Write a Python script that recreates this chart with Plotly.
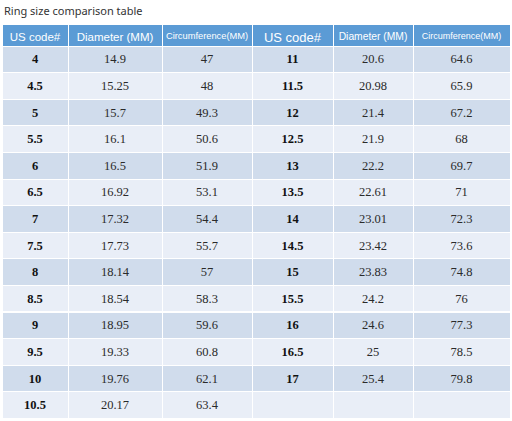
import plotly.graph_objects as go

title = "Ring size comparison table"
headers = ["US code#", "Diameter (MM)", "Circumference(MM)",
           "US code#", "Diameter (MM)", "Circumference(MM)"]

us_left = ["4", "4.5", "5", "5.5", "6", "6.5", "7", "7.5", "8", "8.5", "9", "9.5", "10", "10.5"]
dia_left = ["14.9", "15.25", "15.7", "16.1", "16.5", "16.92", "17.32", "17.73", "18.14",
            "18.54", "18.95", "19.33", "19.76", "20.17"]
circ_left = ["47", "48", "49.3", "50.6", "51.9", "53.1", "54.4", "55.7", "57",
             "58.3", "59.6", "60.8", "62.1", "63.4"]

us_right = ["11", "11.5", "12", "12.5", "13", "13.5", "14", "14.5", "15", "15.5", "16", "16.5", "17"]
dia_right = ["20.6", "20.98", "21.4", "21.9", "22.2", "22.61", "23.01", "23.42", "23.83",
             "24.2", "24.6", "25", "25.4"]
circ_right = ["64.6", "65.9", "67.2", "68", "69.7", "71", "72.3", "73.6", "74.8",
              "76", "77.3", "78.5", "79.8"]

n = len(us_left)
pad = lambda lst: lst + [""] * (n - len(lst))
nobreak = lambda s: s.replace(" ", "\u00a0")

columns = [us_left, dia_left, circ_left,
           pad(us_right), pad(dia_right), pad(circ_right)]

DARK = "#d0dcec"
LIGHT = "#e9eef7"
row_fill = [DARK if i % 2 == 0 else LIGHT for i in range(n)]

fig = go.Figure(go.Table(
    columnwidth=[66, 94, 90, 81, 80, 97],
    header=dict(
        values=[nobreak(h) for h in headers],
        fill_color="#5b9bd5",
        line=dict(color="#ffffff", width=1),
        font=dict(color="white", family="Liberation Sans",
                  size=[11.5, 11.5, 9.3, 13, 10.3, 9]),
        align="center",
        height=22,
    ),
    cells=dict(
        values=columns,
        fill_color=[row_fill] * 6,
        line=dict(color="#ffffff", width=1),
        font=dict(color=["#111111", "#2a2a2a", "#2a2a2a", "#111111", "#2a2a2a", "#2a2a2a"],
                  family="Liberation Serif", size=12.5,
                  weight=["bold", "normal", "normal", "bold", "normal", "normal"]),
        align="center",
        height=26.6,
    ),
    domain=dict(x=[0, 1], y=[0, 1]),
))

fig.add_annotation(text=title, xref="paper", yref="paper", x=0, y=1,
                   yshift=14, xanchor="left", yanchor="middle", showarrow=False,
                   font=dict(family="Noto Sans", size=11, color="#333333"))

fig.update_layout(
    width=512, height=421,
    margin=dict(l=2, r=2, t=24, b=0),
    paper_bgcolor="white",
    plot_bgcolor="white",
)

fig.write_html("out.html", config={"displayModeBar": False},
               post_script="document.body.style.margin='0';document.body.style.overflow='hidden';")
